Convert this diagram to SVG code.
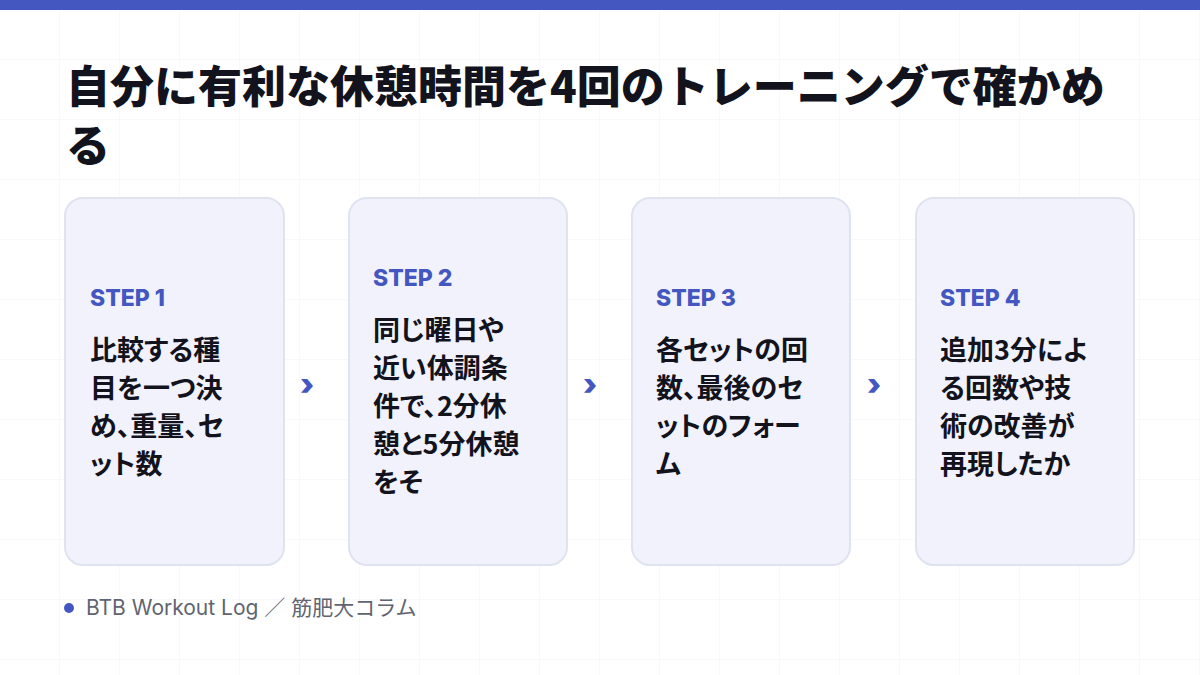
<svg xmlns="http://www.w3.org/2000/svg" width="1200" height="675" viewBox="0 0 1200 675">
<defs>
<pattern id="g" width="60" height="60" patternUnits="userSpaceOnUse"><path d="M60 0V60M0 60H60" fill="none" stroke="#F1F2F5" stroke-width="1"/></pattern>
<style>
.card{fill:#F1F2FB;stroke:#DFE3F0;stroke-width:2}
.step{font-family:Inter,"Noto Sans CJK JP",sans-serif;font-weight:800;font-size:23px;fill:#4457C0}
.body{font-family:"Noto Sans CJK JP",sans-serif;font-weight:700;font-size:27px;fill:#12131C;font-feature-settings:"palt"}
.title{font-family:"Noto Sans CJK JP",sans-serif;font-weight:900;font-size:44px;fill:#12131C}
.chev{font-family:Inter,sans-serif;font-weight:900;font-size:30px;fill:#4457C0}
.foot{font-family:Inter,"Noto Sans CJK JP",sans-serif;font-size:21px;fill:#5F6470}
</style>
</defs>
<rect width="1200" height="675" fill="#fff"/>
<rect width="1200" height="675" fill="url(#g)"/>
<rect width="1200" height="10" fill="#4457C0"/>
<text class="title" x="66" y="103">自分に有利な休憩時間を4回のトレーニングで確かめ</text>
<text class="title" x="66" y="162">る</text>
<g id="step1"><rect class="card" x="65" y="198" width="219" height="367" rx="18"/>
<text class="step" x="90" y="306">STEP 1</text>
<text class="body" x="90" y="360">比較する種</text><text class="body" x="90" y="398">目を一つ決</text><text class="body" x="90" y="436">め、重量、セ</text><text class="body" x="90" y="474">ット数</text></g>
<g id="step2"><rect class="card" x="349" y="198" width="218" height="367" rx="18"/>
<text class="step" x="373" y="286">STEP 2</text>
<text class="body" x="373" y="340">同じ曜日や</text><text class="body" x="373" y="378">近い体調条</text><text class="body" x="373" y="416">件で、2分休</text><text class="body" x="373" y="454">憩と5分休憩</text><text class="body" x="373" y="492">をそ</text></g>
<g id="step3"><rect class="card" x="632" y="198" width="218" height="367" rx="18"/>
<text class="step" x="656" y="306">STEP 3</text>
<text class="body" x="656" y="360">各セットの回</text><text class="body" x="656" y="398">数、最後のセ</text><text class="body" x="656" y="436">ットのフォー</text><text class="body" x="656" y="474">ム</text></g>
<g id="step4"><rect class="card" x="916" y="198" width="218" height="367" rx="18"/>
<text class="step" x="940" y="306">STEP 4</text>
<text class="body" x="940" y="360">追加3分によ</text><text class="body" x="940" y="398">る回数や技</text><text class="body" x="940" y="436">術の改善が</text><text class="body" x="940" y="474">再現したか</text></g>
<g id="connectors">
<text class="chev" x="307" y="395" text-anchor="middle">›</text>
<text class="chev" x="590" y="395" text-anchor="middle">›</text>
<text class="chev" x="874" y="395" text-anchor="middle">›</text>
</g>
<circle cx="69" cy="608" r="5" fill="#4457C0"/>
<text class="foot" x="86" y="615">BTB Workout Log ／ 筋肥大コラム</text>
</svg>
